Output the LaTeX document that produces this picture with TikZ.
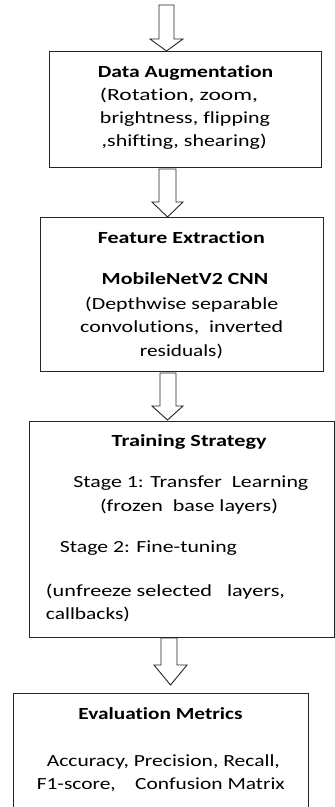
\documentclass[tikz,border=0pt]{standalone}
\usepackage{fontspec}
\usepackage{graphicx}
\setmainfont{Carlito}[FakeStretch=1.3,RawFeature=-liga]
\newcommand{\fitw}[2]{\resizebox{#1pt}{\height}{#2}}
\begin{document}
\begin{tikzpicture}[x=1pt,y=-1pt,
  stagebox/.style={draw=black!85,line width=0.9pt,fill=white},
  blockarrow/.style={draw=black!85,line width=0.9pt,fill=white,line join=miter},
  txt/.style={inner sep=0pt,font=\fontsize{17}{21}\selectfont,text height=12pt,text depth=4pt},
  ttl/.style={txt,font=\fontsize{17}{21}\selectfont\bfseries}]
\useasboundingbox (0,0) rectangle (335,807);
\clip (0,0) rectangle (335,807);
\fill[white] (0,0) rectangle (335,807);
% boxes
\draw[stagebox] (49,51) rectangle (321,167);
\draw[stagebox] (40,217) rectangle (323,371);
\draw[stagebox] (29,421) rectangle (334.5,637);
\draw[stagebox] (13,693) rectangle (308,815);
% arrows
\draw[blockarrow] (159,5) -- (174,5) -- (174,39) -- (183,39) -- (166.5,51) -- (150,39) -- (159,39) -- cycle;
\draw[blockarrow] (159,169) -- (176,169) -- (176,202) -- (183,202) -- (167.5,217) -- (152,202) -- (159,202) -- cycle;
\draw[blockarrow] (160,373) -- (176,373) -- (176,406) -- (183,406) -- (167.5,420) -- (152,406) -- (160,406) -- cycle;
\draw[blockarrow] (161,638) -- (177,638) -- (177,665) -- (187,665) -- (170.5,685) -- (154,665) -- (161,665) -- cycle;
% box 1 text
\node[ttl] (t1) at (185.5,73) {\fitw{175.5}{Data Augmentation}};
\node[txt] (t1a) at (179,96) {\fitw{158}{(Rotation, zoom,}};
\node[txt] (t1b) at (185,119) {\fitw{170}{brightness, flipping}};
\node[txt] (t1c) at (184.2,142) {\fitw{165}{,shifting, shearing)}};
% box 2 text
\node[ttl] (t2) at (181.3,239) {\fitw{167}{Feature Extraction}};
\node[ttl] (t2a) at (185,280) {\fitw{166.5}{MobileNetV2 CNN}};
\node[txt] (t2b) at (181.7,305) {\fitw{193}{(Depthwise separable}};
\node[txt] (t2c) at (181.7,328) {\fitw{203}{convolutions,\ \ inverted}};
\node[txt] (t2d) at (181.5,352) {\fitw{83}{residuals)}};
% box 3 text
\node[ttl] (t3) at (189.2,442) {\fitw{155}{Training Strategy}};
\node[txt] (t3a) at (190.8,483) {\fitw{235}{Stage 1: Transfer\ \ Learning}};
\node[txt] (t3b) at (189,507) {\fitw{178}{(frozen\ \ base layers)}};
\node[txt] (t3c) at (148.5,548) {\fitw{177}{Stage 2: Fine-tuning}};
\node[txt] (t3d) at (165.5,592) {\fitw{239}{(unfreeze selected\ \ \ layers,}};
\node[txt] (t3e) at (88,615) {\fitw{84}{callbacks)}};
% box 4 text
\node[ttl] (t4) at (160.5,715) {\fitw{164}{Evaluation Metrics}};
\node[txt] (t4a) at (163.3,762) {\fitw{233}{Accuracy, Precision, Recall,}};
\node[txt] (t4b) at (160.8,785) {\fitw{248}{F1-score,\ \ \ \ Confusion Matrix}};
\end{tikzpicture}
\end{document}
